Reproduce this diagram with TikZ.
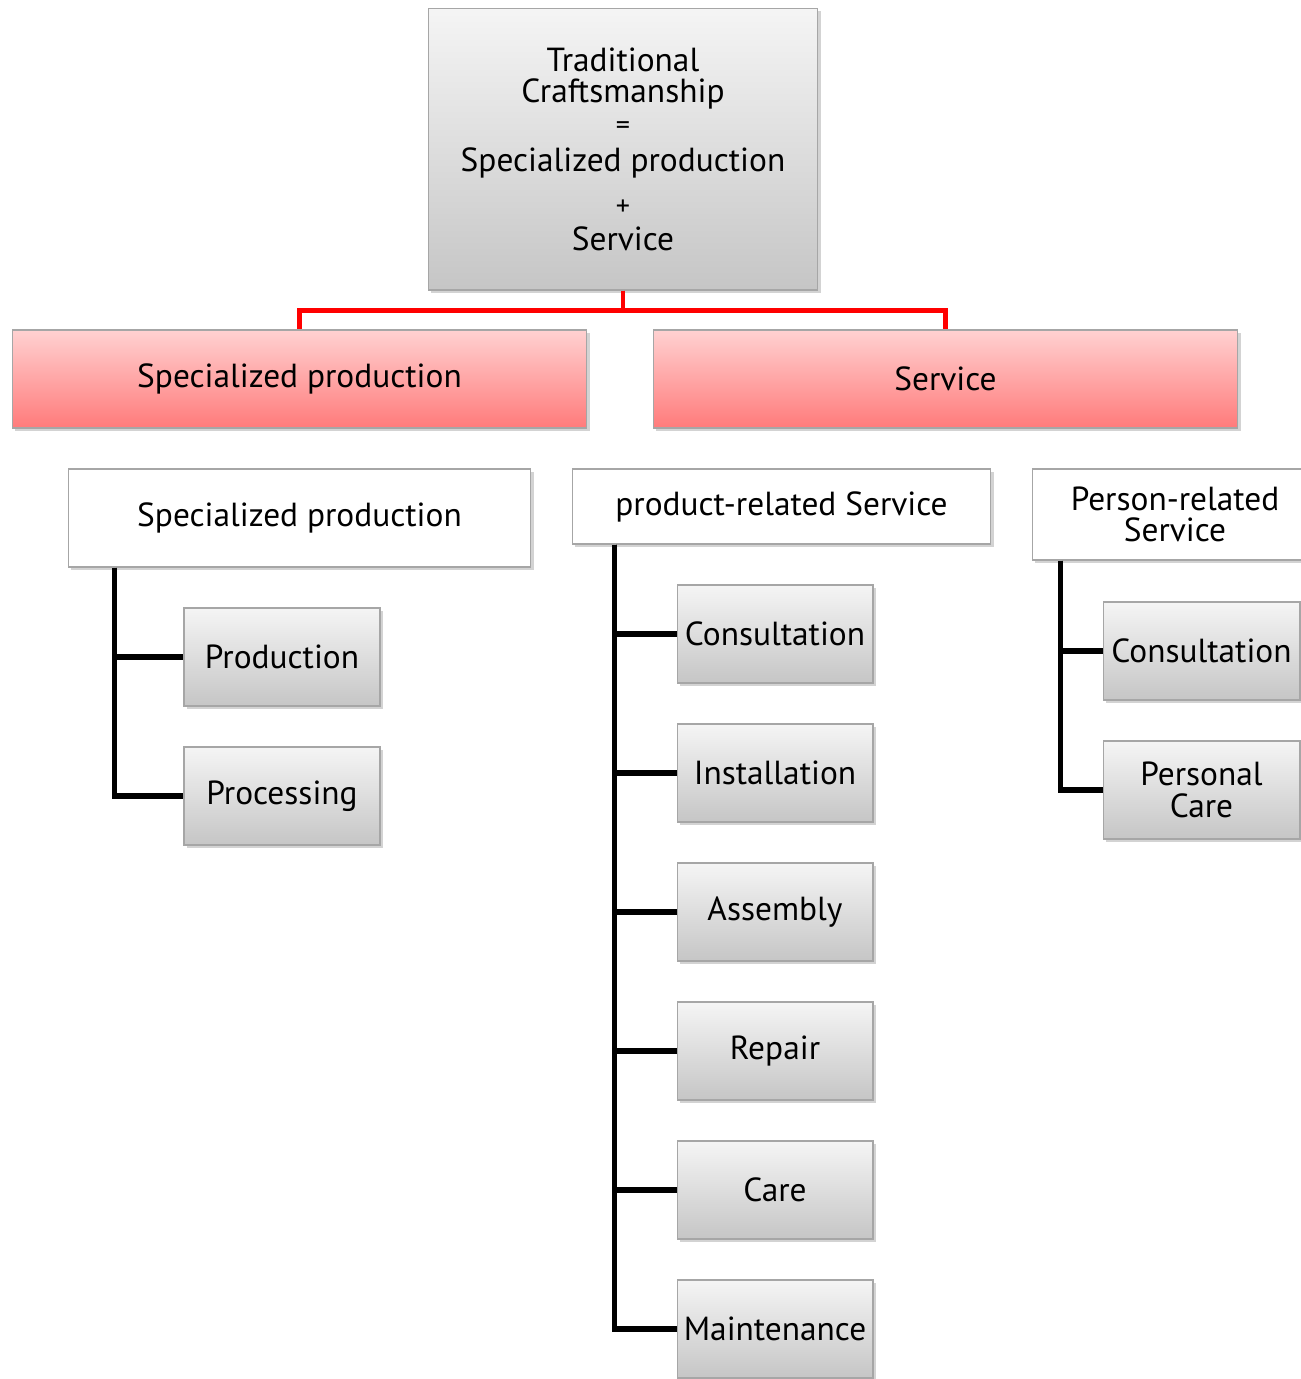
\documentclass[tikz,border=0pt]{standalone}
\usepackage{fontspec}
\setmainfont{PT Sans}
\usetikzlibrary{shadows}

\begin{document}
\begin{tikzpicture}[x=0.02cm,y=-0.02cm,
  box/.style={draw=gray!70,line width=0.6pt,inner sep=2pt,align=center,
    drop shadow={opacity=0.35,shadow xshift=1.5pt,shadow yshift=-1.5pt},
    font=\fontsize{19}{18}\selectfont},
  graybox/.style={box,top color=gray!8,bottom color=gray!45},
  redbox/.style={box,top color=red!18,bottom color=red!52},
  whitebox/.style={box,fill=white},
  leaf/.style={graybox,minimum width=3.92cm,minimum height=1.96cm},
  redline/.style={red,line width=2.6pt},
  tree/.style={black,line width=3pt}]

\useasboundingbox (0,0) rectangle (1301,1379);

% top
\node[graybox,minimum width=7.8cm,minimum height=5.64cm] (top) at (623,149)
  {Traditional\\Craftsmanship\\{\fontsize{16}{18}\selectfont =}\\[3pt]Specialized production\\[7pt]{\fontsize{16}{18}\selectfont +}\\[2pt]Service};

% second row
\node[redbox,minimum width=11.5cm,minimum height=1.96cm] (sp) at (299.5,379) {Specialized production};
\node[redbox,minimum width=11.7cm,minimum height=1.96cm] (sv) at (945.5,379) {Service};

\draw[redline] (top.south) -- ++(0,20) -| (sp.north);
\draw[redline] (top.south) -- ++(0,20) -| (sv.north);

% groups
\node[whitebox,minimum width=9.26cm,minimum height=1.96cm] (spg) at (299.5,518) {Specialized production};
\node[whitebox,minimum width=8.38cm,minimum height=1.5cm] (prs) at (781.5,506.5) {product-related Service};
\node[whitebox,minimum width=5.72cm,minimum height=1.82cm] (pes) at (1175,514.5) {Person-related\\Service};

% left tree
\node[leaf] (prod) at (282,657) {Production};
\node[leaf] (proc) at (282,796) {Processing};
\draw[tree] ([xshift=0.94cm]spg.south west) |- (prod.west);
\draw[tree] ([xshift=0.94cm]spg.south west) |- (proc.west);

% middle tree
\foreach \t [count=\i] in {Consultation,Installation,Assembly,Repair,Care,Maintenance}
  \node[leaf] (m\i) at (775,{634+139*(\i-1)}) {\t};
\foreach \i in {1,...,6}
  \draw[tree] ([xshift=0.86cm]prs.south west) |- (m\i.west);

% right tree
\node[leaf,minimum width=3.94cm] (pc) at (1201.5,651) {Consultation};
\node[leaf,minimum width=3.94cm] (pcare) at (1201.5,790) {Personal\\Care};
\draw[tree] ([xshift=0.58cm]pes.south west) |- (pc.west);
\draw[tree] ([xshift=0.58cm]pes.south west) |- (pcare.west);
\end{tikzpicture}
\end{document}
